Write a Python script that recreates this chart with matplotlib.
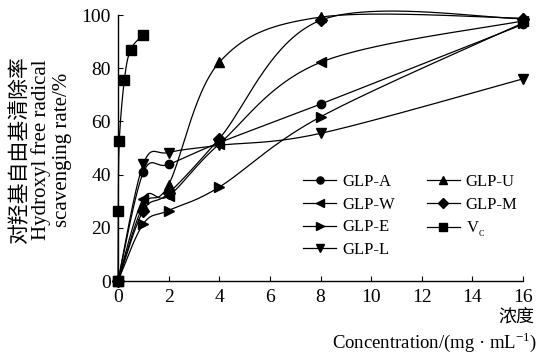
import numpy as np
import matplotlib
matplotlib.use('Agg')
import matplotlib.pyplot as plt
from matplotlib.lines import Line2D

plt.rcParams['font.family'] = ['Liberation Serif', 'Noto Sans CJK SC']
plt.rcParams['mathtext.fontset'] = 'custom'
plt.rcParams['mathtext.rm'] = 'Liberation Serif'
plt.rcParams['axes.unicode_minus'] = False

# Data
conc = [0, 1, 2, 4, 8, 16]
glp_a = [0, 40.8, 43.8, 52.0, 66.5, 96.5]
glp_u = [0, 28.5, 36.2, 82.2, 99.2, 98.8]
glp_w = [0, 31.0, 32.0, 51.5, 82.2, 97.8]
glp_m = [0, 26.5, 33.0, 53.5, 98.0, 98.6]
glp_e = [0, 21.5, 26.5, 35.3, 61.7, 97.0]
glp_l = [0, 44.0, 48.3, 51.0, 55.5, 76.0]
vc_conc = [0, 0.01, 0.05, 0.25, 0.5, 1.0]
vc = [0, 26.5, 52.5, 75.5, 87.0, 92.5]

series = [
    ('GLP-A', conc, glp_a, 'o', 6),
    ('GLP-W', conc, glp_w, '<', 7),
    ('GLP-E', conc, glp_e, '>', 7),
    ('GLP-L', conc, glp_l, 'v', 7),
    ('GLP-U', conc, glp_u, '^', 7),
    ('GLP-M', conc, glp_m, 'D', 6),
    (r'V$_{\mathregular{_C}}$', vc_conc, vc, 's', 6.5),
]

W, H = 538, 353
fig = plt.figure(figsize=(W / 100, H / 100), dpi=100, facecolor='white')
ax_l, ax_r, ax_t, ax_b = 118, 523, 15, 281
ax = fig.add_axes([ax_l / W, 1 - ax_b / H, (ax_r - ax_l) / W, (ax_b - ax_t) / H])

# pixel scale for smoothing (Excel-like bezier curves)
sx = (ax_r - ax_l) / 16.0
sy = (ax_b - ax_t) / 100.0


def smooth(x, y, n=40):
    P = np.column_stack([np.asarray(x, float) * sx, np.asarray(y, float) * sy])
    Pe = np.vstack([P[0], P, P[-1]])
    t = np.linspace(0, 1, n)[:, None]
    out = []
    for i in range(len(P) - 1):
        p0, p1, p2, p3 = Pe[i], Pe[i + 1], Pe[i + 2], Pe[i + 3]
        c1 = p1 + (p2 - p0) / 6
        c2 = p2 - (p3 - p1) / 6
        out.append((1 - t) ** 3 * p1 + 3 * (1 - t) ** 2 * t * c1
                   + 3 * (1 - t) * t ** 2 * c2 + t ** 3 * p2)
    pts = np.vstack(out)
    return pts[:, 0] / sx, pts[:, 1] / sy


handles = []
for label, xs, ys, mk, ms in series:
    cx, cy = smooth(xs, ys)
    ax.plot(cx, cy, color='black', lw=0.9, clip_on=False, zorder=2)
    ax.plot(xs, ys, ls='none', marker=mk, ms=ms, color='black',
            clip_on=False, zorder=3)
    handles.append(Line2D([], [], color='black', lw=0.9, marker=mk,
                          ms=ms * 0.85, label=label))

ax.set_xlim(0, 16)
ax.set_ylim(0, 100)
ax.set_xticks(np.arange(0, 17, 2))
ax.set_yticks(np.arange(0, 101, 20))
ax.tick_params(direction='in', length=3.5, width=0.8, labelsize=14)
ax.tick_params(axis='x', pad=6)
ax.tick_params(axis='y', pad=5)
for s in ['top', 'right']:
    ax.spines[s].set_visible(False)
for s in ['left', 'bottom']:
    ax.spines[s].set_linewidth(1.0)

# y label: three rotated lines
fig.text(20 / W, 1 - 150 / H, '对羟基自由基清除率', rotation=90,
         ha='center', va='center', fontsize=15)
fig.text(41 / W, 1 - 150 / H, 'Hydroxyl free radical', rotation=90,
         ha='center', va='center', fontsize=15)
fig.text(62 / W, 1 - 150 / H, 'scavenging rate/%', rotation=90,
         ha='center', va='center', fontsize=15)

# x label
fig.text(534 / W, 1 - 317 / H, '浓度', ha='right', va='center', fontsize=13)
fig.text(537 / W, 1 - 342 / H, r'Concentration/(mg · mL$^{-1}$)',
         ha='right', va='center', fontsize=13.5)

ax.legend(handles=handles, ncol=2, loc='upper left',
          bbox_to_anchor=(303 / W, 1 - 174 / H), bbox_transform=fig.transFigure,
          frameon=False, borderpad=0, borderaxespad=0, fontsize=12,
          handlelength=2.0, handletextpad=0.35, columnspacing=1.9,
          labelspacing=0.4)

plt.savefig('out.png', dpi=100, facecolor='white')
plt.close()
